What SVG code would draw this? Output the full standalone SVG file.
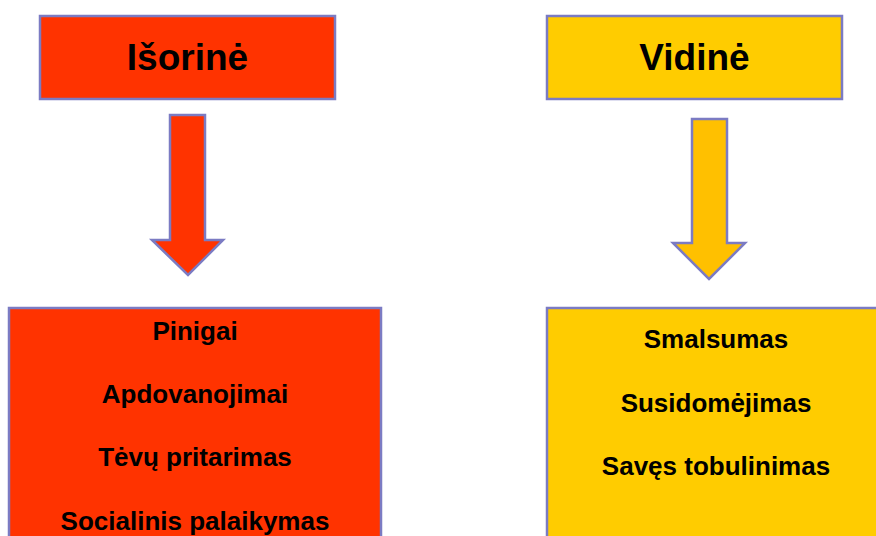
<svg xmlns="http://www.w3.org/2000/svg" width="876" height="536" viewBox="0 0 876 536">
<style>
.box{stroke:#7B7BC3;stroke-width:2.5}
.red{fill:#FF3300}
.yel{fill:#FFCC00}
.arr{fill:#FFC000}
text{font-family:"Liberation Sans",Arial,sans-serif;font-weight:bold;fill:#000;text-anchor:middle}
.t{font-size:37px}
.s{font-size:26px}
</style>
<rect width="876" height="536" fill="#fff"/>
<g id="isorine">
<rect class="box red" x="40" y="16" width="295" height="83"/>
<text class="t" x="187.5" y="70">Išorinė</text>
</g>
<g id="vidine">
<rect class="box yel" x="547" y="16" width="295" height="83"/>
<text class="t" x="694.5" y="70">Vidinė</text>
</g>
<g id="connectors">
<polygon class="box red" points="170,115 205,115 205,240 223,240 188,275 152,240 170,240"/>
<polygon class="box arr" points="692,119 727,119 727,243 745,243 709,279 673,243 692,243"/>
</g>
<g id="isorine-list">
<rect class="box red" x="9" y="308" width="372" height="240"/>
<text class="s" x="195" y="340">Pinigai</text>
<text class="s" x="195" y="403">Apdovanojimai</text>
<text class="s" x="195" y="466">Tėvų pritarimas</text>
<text class="s" x="195" y="530">Socialinis palaikymas</text>
</g>
<g id="vidine-list">
<rect class="box yel" x="547" y="308" width="345" height="240"/>
<text class="s" x="716" y="348">Smalsumas</text>
<text class="s" x="716" y="412">Susidomėjimas</text>
<text class="s" x="716" y="475">Savęs tobulinimas</text>
</g>
</svg>
